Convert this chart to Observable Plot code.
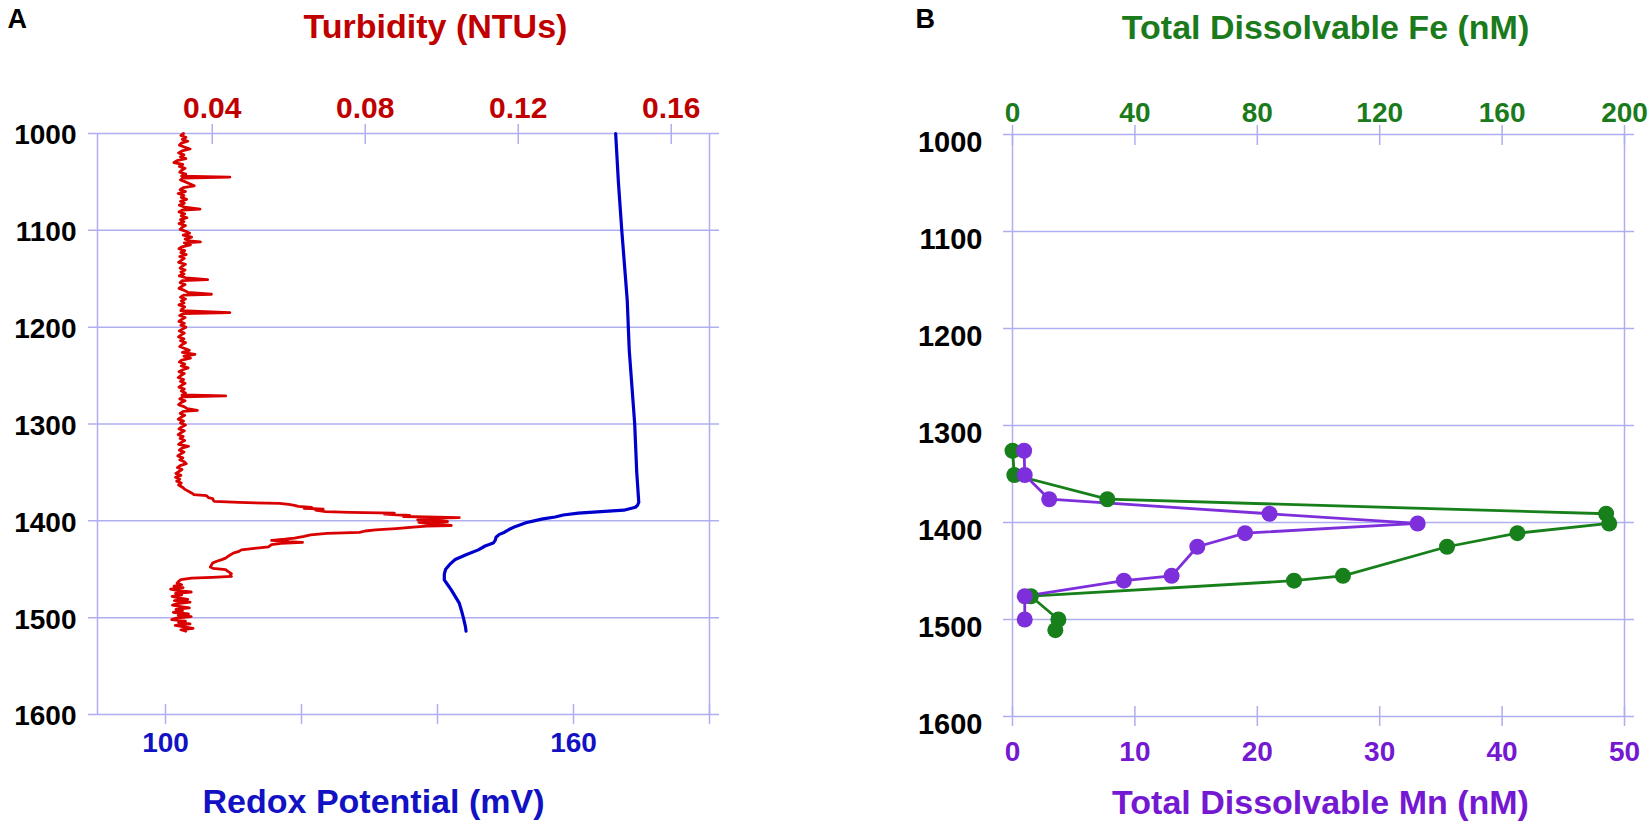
<!DOCTYPE html>
<html>
<head>
<meta charset="utf-8">
<script src="https://cdn.jsdelivr.net/npm/d3@7"></script>
<script src="https://cdn.jsdelivr.net/npm/@observablehq/plot@0.6"></script>
<style>
  body { margin: 0; background: #ffffff; }
  #chart { position: relative; width: 1650px; height: 828px; overflow: hidden; }
  .panel { position: absolute; top: 0; width: 825px; height: 828px; }
</style>
</head>
<body>
<div id="chart">
  <div class="panel" id="panelA" style="left:0px"></div>
  <div class="panel" id="panelB" style="left:825px"></div>
</div>
<script>
// colours
const grid_blue = '#aeaef0';
const red_line = '#d90000';
const red_text = '#c00000';
const blue_line = '#0000cc';
const blue_text = '#1212c4';
const fe_green = '#17801b';
const fe_text = '#1b7a1b';
const mn_purple = '#7d2fdb';
const mn_text = '#7418d2';
const font = '"Liberation Sans", Arial, Helvetica, sans-serif';

// depth axis (shared)
const depthTicks = [1000, 1100, 1200, 1300, 1400, 1500, 1600];

// panel A axes
const turbTicks = [0.04, 0.08, 0.12, 0.16];
const redoxTicks = [100, 120, 140, 160, 180];
const redoxLabels = [100, 160];

// turbidity profile [depth m, NTU]
const turbidity = [
[1000,0.0325],[1002,0.0318],[1004,0.0331],[1006,0.0322],[1008,0.0336],[1010,0.0319],[1012,0.0314],[1014,0.0327],[1016,0.0342],[1018,0.0321],
[1020,0.0312],[1022,0.0326],[1024,0.0317],[1026,0.0331],[1028,0.0308],[1030,0.0300],[1032,0.0323],[1034,0.0314],[1036,0.0329],[1038,0.0320],
[1040,0.0315],[1042,0.0331],[1044,0.0320],[1045,0.0446],[1046,0.0324],[1048,0.0317],[1050,0.0330],[1052,0.0341],[1054,0.0353],[1056,0.0324],
[1058,0.0316],[1060,0.0330],[1062,0.0311],[1064,0.0326],[1066,0.0319],[1068,0.0333],[1070,0.0317],[1072,0.0327],[1074,0.0314],[1076,0.0328],
[1078,0.0368],[1079,0.0322],[1081,0.0313],[1083,0.0328],[1085,0.0319],[1087,0.0334],[1089,0.0317],[1091,0.0326],[1093,0.0313],[1095,0.0330],
[1097,0.0321],[1099,0.0316],[1101,0.0331],[1103,0.0341],[1105,0.0324],[1107,0.0346],[1109,0.0329],[1111,0.0340],[1112,0.0369],[1113,0.0327],
[1115,0.0343],[1117,0.0321],[1119,0.0313],[1121,0.0328],[1123,0.0318],[1125,0.0332],[1127,0.0315],[1129,0.0327],[1131,0.0319],[1133,0.0312],
[1135,0.0330],[1137,0.0322],[1139,0.0316],[1141,0.0329],[1143,0.0318],[1145,0.0326],[1147,0.0314],[1149,0.0331],[1151,0.0388],[1152,0.0322],
[1154,0.0316],[1156,0.0329],[1158,0.0320],[1160,0.0313],[1162,0.0327],[1164,0.0336],[1166,0.0398],[1167,0.0325],[1169,0.0317],[1171,0.0330],
[1173,0.0319],[1175,0.0326],[1177,0.0313],[1179,0.0328],[1181,0.0321],[1183,0.0318],[1185,0.0446],[1186,0.0324],[1188,0.0315],[1190,0.0329],
[1192,0.0320],[1194,0.0313],[1196,0.0327],[1198,0.0318],[1200,0.0331],[1202,0.0322],[1204,0.0314],[1206,0.0327],[1208,0.0319],[1210,0.0312],
[1212,0.0326],[1214,0.0317],[1216,0.0330],[1218,0.0321],[1220,0.0315],[1222,0.0328],[1224,0.0340],[1226,0.0322],[1228,0.0355],[1230,0.0326],
[1232,0.0343],[1234,0.0320],[1236,0.0314],[1238,0.0328],[1240,0.0319],[1242,0.0337],[1244,0.0323],[1246,0.0313],[1248,0.0327],[1250,0.0318],
[1252,0.0311],[1254,0.0325],[1256,0.0317],[1258,0.0329],[1260,0.0320],[1262,0.0313],[1264,0.0327],[1266,0.0319],[1268,0.0330],[1270,0.0321],
[1271,0.0435],[1272,0.0323],[1274,0.0315],[1276,0.0329],[1278,0.0318],[1280,0.0312],[1282,0.0326],[1284,0.0334],[1286,0.0361],[1287,0.0324],
[1289,0.0316],[1291,0.0328],[1293,0.0319],[1295,0.0311],[1297,0.0325],[1299,0.0317],[1301,0.0330],[1303,0.0320],[1305,0.0313],[1307,0.0327],
[1309,0.0318],[1311,0.0311],[1313,0.0324],[1315,0.0316],[1317,0.0328],[1319,0.0319],[1321,0.0312],[1323,0.0338],[1325,0.0321],[1327,0.0314],
[1329,0.0326],[1331,0.0317],[1333,0.0310],[1335,0.0323],[1337,0.0315],[1339,0.0327],[1341,0.0332],[1343,0.0316],[1345,0.0309],[1347,0.0321],
[1349,0.0313],[1351,0.0305],[1353,0.0318],[1355,0.0304],[1357,0.0315],[1359,0.0307],[1361,0.0319],[1363,0.0312],[1365,0.0321],[1367,0.0327],
[1368,0.0331],[1370,0.0340],[1371.5,0.0347],[1373,0.0352],[1374,0.0385],[1376,0.0390],[1377,0.0401],[1379,0.0403],[1380,0.0406],[1381,0.0470],
[1382,0.0576],[1383,0.0600],[1384,0.0615],[1385,0.0625],[1386,0.0660],[1387,0.0640],[1388,0.0690],[1389,0.0670],[1390.4,0.0696],[1391.2,0.0760],
[1392,0.0876],[1393,0.0850],[1394.5,0.0916],[1395.5,0.0900],[1396.6,0.1046],[1397.5,0.0960],[1399,0.0937],[1400,0.1000],[1400.7,0.1015],[1401.5,0.0940],
[1402.4,0.0955],[1403.5,0.0990],[1404.8,0.1025],[1405.5,0.0960],[1406.5,0.0926],[1408,0.0880],[1409.3,0.0827],[1410.5,0.0800],[1412,0.0785],[1413,0.0700],
[1414.4,0.0657],[1416,0.0640],[1417.8,0.0615],[1419,0.0590],[1420.2,0.0555],[1421.5,0.0600],[1422.2,0.0636],[1423.2,0.0580],[1424.6,0.0555],[1427,0.0547],
[1428.5,0.0510],[1430,0.0476],[1431.5,0.0470],[1433.3,0.0455],[1435,0.0448],[1436.5,0.0442],[1438.5,0.0435],[1440,0.0425],[1442,0.0410],[1443.6,0.0401],
[1445.5,0.0398],[1447.7,0.0395],[1449,0.0402],[1450.5,0.0435],[1452,0.0440],[1454.6,0.0450],[1456,0.0447],[1457.4,0.0450],[1458.3,0.0400],[1459.1,0.0346],
[1460.8,0.0318],[1462.5,0.0312],[1464.3,0.0308],[1466,0.0320],[1467.5,0.0300],[1469,0.0324],[1470.5,0.0291],[1472,0.0310],[1473.5,0.0345],[1475,0.0304],
[1476.5,0.0320],[1478,0.0295],[1479.5,0.0312],[1481,0.0336],[1482.5,0.0301],[1484,0.0342],[1485.5,0.0309],[1487,0.0296],[1488.5,0.0318],[1490,0.0340],
[1491.5,0.0305],[1493,0.0322],[1494.5,0.0298],[1496,0.0338],[1497.5,0.0311],[1499,0.0345],[1500.5,0.0306],[1502,0.0294],[1503.5,0.0330],[1505,0.0312],
[1506.5,0.0342],[1508,0.0303],[1509.5,0.0326],[1511,0.0350],[1512.5,0.0318],[1514,0.0331]
];

// redox potential profile [depth m, mV]
const redox = [
[1000,166.2],[1050,166.6],[1100,167.1],[1172,167.9],[1224,168.2],[1300,169.0],[1350,169.3],[1381,169.6],[1384,169.4],[1386,169.1],
[1389,167.4],[1392,160.7],[1394,158.5],[1396,157.3],[1398,155.5],[1400,154.2],[1402,153.0],[1404,152.2],[1406,151.4],[1409,150.5],
[1412,149.8],[1414,149.1],[1417,148.6],[1420,148.5],[1423,148.2],[1426,147.0],[1430,146.0],[1435,144.2],[1440,142.6],[1445,141.8],
[1450,141.2],[1455,141.0],[1461,141.0],[1466,141.5],[1471,142.0],[1478,142.6],[1485,143.2],[1492,143.5],[1500,143.8],[1509,144.1],
[1514,144.2]
];

// panel B bottle samples
const sampleDepth = [1326, 1351, 1376, 1391, 1401, 1411, 1425, 1455, 1460, 1476, 1500, 1511];
const feValues = [0, 0.6, 31, 194, 195, 165, 142, 108, 92, 6, 15, 14];
const mnValues = [0.95, 1.0, 3.0, 21.0, 33.1, 19.0, 15.1, 13.0, 9.1, 1.0, 1.0];
const feTicks = [0, 40, 80, 120, 160, 200];
const mnTicks = [0, 10, 20, 30, 40, 50];

const feData = sampleDepth.map((d, i) => ({depth: d, value: feValues[i]}));
const mnData = mnValues.map((v, i) => ({depth: sampleDepth[i], value: v}));

const boldText = {fontWeight: "bold", fontFamily: font};

// layout per panel (px inside a 825x828 svg)
const frameA = {width: 825, height: 828, marginLeft: 97, marginRight: 116, marginTop: 133, marginBottom: 114};
const frameB = {width: 825, height: 828, marginLeft: 187, marginRight: 26, marginTop: 134, marginBottom: 112};

function title(label, anchor, dx, dy, color) {
    return Plot.text([label], {text: d => d, frameAnchor: anchor, dx: dx, dy: dy, lineAnchor: "bottom",
        fontSize: 34, fill: color, ...boldText});
}

/* ---------- panel A ---------- */
function redoxLayer() {
    return Plot.plot({
        ...frameA,
        style: {background: "none", overflow: "visible"},
        x: {domain: [90, 180]},
        y: {domain: [1000, 1600], reverse: true, axis: null},
        marks: [
            Plot.axisX({anchor: "bottom", ticks: redoxTicks, tickSize: 20, dy: -10, stroke: grid_blue, strokeWidth: 1.5, fill: "none", label: null}),
            Plot.axisX({anchor: "bottom", ticks: redoxLabels, tickSize: 0, tickPadding: 18, fontSize: 28, fill: blue_text, tickFormat: "d", label: null, ...boldText}),
            Plot.line(redox, {x: d => d[1], y: d => d[0], stroke: blue_line, strokeWidth: 3.2})
        ]
    });
}

const figA = Plot.plot({
    ...frameA,
    style: {fontFamily: font, background: "white", overflow: "visible"},
    x: {domain: [0.01, 0.17]},
    y: {domain: [1000, 1600], reverse: true},
    marks: [
        Plot.ruleY(depthTicks, {stroke: grid_blue, strokeWidth: 1.5, insetLeft: -9, insetRight: -10}),
        Plot.ruleX([0.01, 0.17], {stroke: grid_blue, strokeWidth: 1.5}),
        Plot.axisY({ticks: depthTicks, tickSize: 0, tickPadding: 21, dy: 2, fontSize: 28, fill: "black", tickFormat: "d", label: null, ...boldText}),
        Plot.axisX({anchor: "top", ticks: turbTicks, tickSize: 20, dy: 10, stroke: grid_blue, strokeWidth: 1.5, fill: "none", label: null}),
        Plot.axisX({anchor: "top", ticks: turbTicks, tickSize: 0, tickPadding: 16, fontSize: 30, fill: red_text, tickFormat: d3.format(".2f"), label: null, ...boldText}),
        Plot.line(turbidity, {x: d => d[1], y: d => d[0], stroke: red_line, strokeWidth: 2.8}),
        () => redoxLayer(),
        title("Turbidity (NTUs)", "top", 32, -96, red_text),
        title("Redox Potential (mV)", "bottom", -30, 98, blue_text),
        Plot.text(["A"], {text: d => d, frameAnchor: "top-left", dx: -90, dy: -106, textAnchor: "start", lineAnchor: "bottom", fontSize: 27, fill: "black", ...boldText})
    ]
});
document.querySelector('#panelA').append(figA);

/* ---------- panel B ---------- */
function mnLayer(marks) {
    // the Mn scale shares the frame of the Fe plot; its axis marks are passed in explicitly
    return Plot.plot({
        ...frameB,
        style: {background: "none", overflow: "visible"},
        x: {domain: [0, 50], axis: null},
        y: {domain: [1000, 1600], reverse: true, axis: null},
        marks: marks
    });
}

const figB = Plot.plot({
    ...frameB,
    style: {fontFamily: font, background: "white", overflow: "visible"},
    x: {domain: [0, 200]},
    y: {domain: [1000, 1600], reverse: true},
    marks: [
        Plot.ruleY(depthTicks, {stroke: grid_blue, strokeWidth: 1.5, insetLeft: -9, insetRight: -10}),
        Plot.ruleX([0, 200], {stroke: grid_blue, strokeWidth: 1.5}),
        Plot.axisY({ticks: depthTicks, tickSize: 0, tickPadding: 30, dy: 8, fontSize: 29, fill: "black", tickFormat: "d", label: null, ...boldText}),
        Plot.axisX({anchor: "top", ticks: feTicks, tickSize: 20, dy: 10, stroke: grid_blue, strokeWidth: 1.5, fill: "none", label: null}),
        Plot.axisX({anchor: "top", ticks: feTicks, tickSize: 0, tickPadding: 13, fontSize: 28, fill: fe_text, tickFormat: "d", label: null, ...boldText}),
        Plot.line(feData, {x: "value", y: "depth", stroke: fe_green, strokeWidth: 2.8}),
        () => mnLayer([
            Plot.line(mnData, {x: "value", y: "depth", stroke: mn_purple, strokeWidth: 2.8})
        ]),
        Plot.dot(feData, {x: "value", y: "depth", r: 8, fill: fe_green}),
        () => mnLayer([
            Plot.axisX({anchor: "bottom", ticks: mnTicks, tickSize: 20, dy: -10, stroke: grid_blue, strokeWidth: 1.5, fill: "none", label: null}),
            Plot.axisX({anchor: "bottom", ticks: mnTicks, tickSize: 0, tickPadding: 25, fontSize: 28, fill: mn_text, tickFormat: "d", label: null, ...boldText}),
            Plot.dot(mnData, {x: "value", y: "depth", r: 8, fill: mn_purple})
        ]),
        title("Total Dissolvable Fe (nM)", "top", 7, -96, fe_text),
        title("Total Dissolvable Mn (nM)", "bottom", 2, 97, mn_text),
        Plot.text(["B"], {text: d => d, frameAnchor: "top-left", dx: -97, dy: -107, textAnchor: "start", lineAnchor: "bottom", fontSize: 27, fill: "black", ...boldText})
    ]
});
document.querySelector('#panelB').append(figB);
</script>
</body>
</html>
